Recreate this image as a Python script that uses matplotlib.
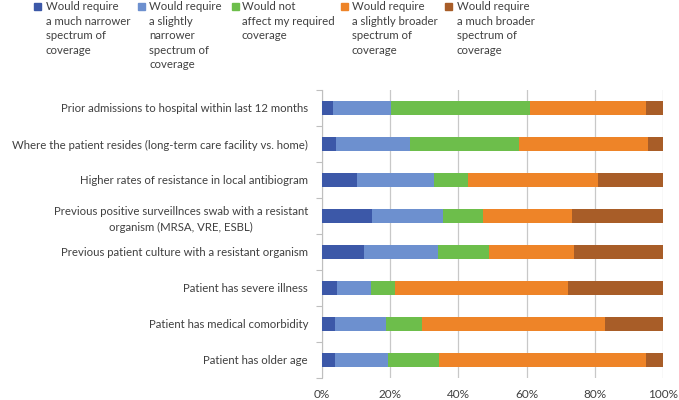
import matplotlib
matplotlib.use("Agg")
import matplotlib.pyplot as plt
from matplotlib.patches import Rectangle
import numpy as np

plt.rcParams['font.family'] = ['Lato', 'DejaVu Sans']

categories = [
    "Prior admissions to hospital within last 12 months",
    "Where the patient resides (long-term care facility vs. home)",
    "Higher rates of resistance in local antibiogram",
    "Previous positive surveillnces swab with a resistant\norganism (MRSA, VRE, ESBL)",
    "Previous patient culture with a resistant organism",
    "Patient has severe illness",
    "Patient has medical comorbidity",
    "Patient has older age",
]

much_narrower = [3.2, 4.1, 10.2, 14.7, 12.3, 4.4, 3.9, 3.9]
slightly_narrower = [17.1, 21.6, 22.6, 20.8, 21.6, 10.0, 14.9, 15.4]
no_effect = [40.7, 32.0, 10.1, 11.6, 15.1, 6.9, 10.6, 15.1]
slightly_broader = [33.9, 37.9, 37.9, 26.2, 25.0, 50.8, 53.7, 60.5]
much_broader = [5.1, 4.4, 19.2, 26.7, 26.0, 27.9, 16.9, 5.1]

series_labels = [
    "Would require\na much narrower\nspectrum of\ncoverage",
    "Would require\na slightly\nnarrower\nspectrum of\ncoverage",
    "Would not\naffect my required\ncoverage",
    "Would require\na slightly broader\nspectrum of\ncoverage",
    "Would require\na much broader\nspectrum of\ncoverage",
]
colors = ["#3C58A8", "#6D90CF", "#6DBE4B", "#EE8428", "#A85D28"]
xtick_labels = ["0%", "20%", "40%", "60%", "80%", "100%"]

series = [much_narrower, slightly_narrower, no_effect, slightly_broader, much_broader]

W, H = 679, 400
fig = plt.figure(figsize=(W / 100, H / 100), dpi=100)
ax = fig.add_axes([322 / W, (H - 378) / H, (663 - 322) / W, (378 - 90) / H])

y = np.arange(len(categories))
left = np.zeros(len(categories))
for vals, c, lab in zip(series, colors, series_labels):
    vals = np.array(vals)
    ax.barh(y, vals, left=left, height=0.4, color=c, label=lab, zorder=3)
    left += vals

ax.set_ylim(len(categories) - 0.5, -0.5)
ax.set_xlim(0, 100)
ax.set_xticks(np.arange(0, 101, 20))
ax.set_xticklabels(xtick_labels, fontsize=8.5, color="#404040")
ax.tick_params(axis='x', length=0, pad=8)

ax.set_yticks(y)
ax.set_yticklabels(categories, fontsize=8.2, color="#404040",
                   multialignment='center', linespacing=1.6)
ax.tick_params(axis='y', length=0, pad=10)
ax.set_yticks(np.arange(-0.5, len(categories), 1.0), minor=True)
ax.tick_params(axis='y', which='minor', length=4, color="#BFBFBF", width=0.8)

ax.grid(axis='x', color="#C8C8C8", linewidth=0.9, zorder=0)
for s in ['top', 'right', 'bottom']:
    ax.spines[s].set_visible(False)
ax.spines['left'].set_color("#BFBFBF")
ax.spines['left'].set_linewidth(0.8)

# legend drawn manually across the top
sq_x = [37.7, 141.7, 235.0, 344.0, 448.3]
txt_x = [46.0, 149.0, 242.0, 351.7, 456.7]
for sx, tx, c, lab in zip(sq_x, txt_x, colors, series_labels):
    fig.patches.append(Rectangle(((sx - 3.5) / W, (H - 6.8 - 3.5) / H), 7 / W, 7 / H,
                                 transform=fig.transFigure, color=c))
    fig.text(tx / W, (H - 1.0) / H, lab, fontsize=8.2, color="#404040",
             va='top', ha='left', linespacing=1.4)

fig.savefig("out.png", dpi=100)
